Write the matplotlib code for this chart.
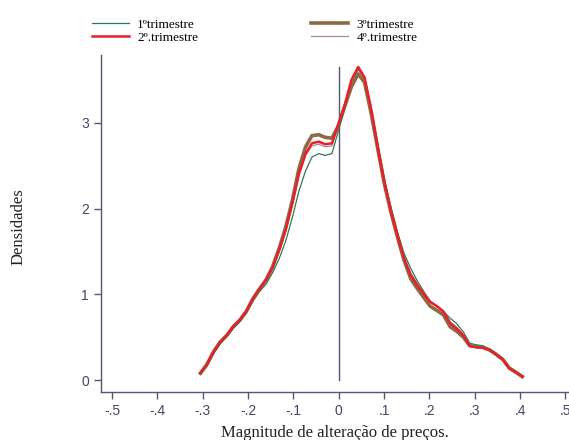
import matplotlib.pyplot as plt

# grade de avaliação da densidade (50 pontos)
x = [-0.305, -0.291, -0.276, -0.262, -0.247, -0.233, -0.218, -0.204, -0.189, -0.175,
     -0.160, -0.146, -0.131, -0.117, -0.102, -0.088, -0.073, -0.059, -0.044, -0.030,
     -0.015, -0.001, 0.014, 0.028, 0.043, 0.057, 0.072, 0.086, 0.101, 0.115,
     0.130, 0.144, 0.159, 0.173, 0.188, 0.202, 0.217, 0.231, 0.246, 0.260,
     0.275, 0.289, 0.304, 0.318, 0.333, 0.347, 0.362, 0.376, 0.391, 0.405]

tri1 = [0.07, 0.16, 0.31, 0.42, 0.51, 0.60, 0.68, 0.78, 0.92, 1.03,
        1.12, 1.25, 1.42, 1.62, 1.90, 2.20, 2.44, 2.60, 2.64, 2.62,
        2.64, 2.90, 3.20, 3.48, 3.62, 3.52, 3.15, 2.75, 2.34, 2.02,
        1.72, 1.48, 1.30, 1.16, 1.03, 0.92, 0.86, 0.80, 0.72, 0.66,
        0.56, 0.43, 0.41, 0.40, 0.36, 0.31, 0.25, 0.15, 0.09, 0.04]

tri2 = [0.08, 0.18, 0.33, 0.44, 0.52, 0.62, 0.70, 0.80, 0.95, 1.06,
        1.17, 1.31, 1.52, 1.75, 2.07, 2.40, 2.64, 2.76, 2.78, 2.75,
        2.76, 2.98, 3.22, 3.50, 3.65, 3.53, 3.15, 2.72, 2.30, 1.98,
        1.68, 1.42, 1.22, 1.11, 1.00, 0.91, 0.86, 0.80, 0.66, 0.60,
        0.52, 0.40, 0.38, 0.38, 0.35, 0.30, 0.24, 0.14, 0.09, 0.04]

tri3 = [0.08, 0.18, 0.33, 0.44, 0.52, 0.62, 0.70, 0.80, 0.95, 1.06,
        1.17, 1.32, 1.54, 1.78, 2.10, 2.46, 2.72, 2.85, 2.86, 2.83,
        2.82, 2.96, 3.20, 3.42, 3.57, 3.47, 3.10, 2.70, 2.28, 1.96,
        1.66, 1.40, 1.18, 1.07, 0.96, 0.86, 0.81, 0.76, 0.62, 0.57,
        0.50, 0.40, 0.39, 0.38, 0.35, 0.30, 0.24, 0.14, 0.09, 0.04]

tri4 = [0.08, 0.18, 0.33, 0.44, 0.52, 0.62, 0.70, 0.80, 0.94, 1.05,
        1.16, 1.30, 1.50, 1.73, 2.05, 2.38, 2.62, 2.73, 2.75, 2.72,
        2.73, 2.97, 3.22, 3.49, 3.63, 3.52, 3.14, 2.73, 2.31, 1.99,
        1.69, 1.44, 1.25, 1.13, 1.01, 0.91, 0.86, 0.80, 0.68, 0.62,
        0.53, 0.41, 0.39, 0.39, 0.35, 0.30, 0.24, 0.14, 0.09, 0.04]

labels = ['1ºtrimestre', '2º.trimestre', '3ºtrimestre', '4º.trimestre']
xticks = [-0.5, -0.4, -0.3, -0.2, -0.1, 0, 0.1, 0.2, 0.3, 0.4, 0.5]
xticklabels = ['-.5', '-.4', '-.3', '-.2', '-.1', '0', '.1', '.2', '.3', '.4', '.5']
yticks = [0, 1, 2, 3]

axcol = '#55557a'
serif = 'Liberation Serif'

fig = plt.figure(figsize=(5.69, 4.4), dpi=100)
ax = fig.add_axes([0.177, 0.109, 0.823, 0.766])

l1, = ax.plot(x, tri1, color='#2f7a50', lw=0.9, zorder=3)
l2, = ax.plot(x, tri2, color='#e8202a', lw=1.8, zorder=5)
l3, = ax.plot(x, tri3, color='#8c6a45', lw=2.6, zorder=2)
l4, = ax.plot(x, tri4, color='#a88a9a', lw=0.9, zorder=4)

# linha vertical no zero
ax.plot([0, 0], [0, max(tri2)], color=axcol, lw=1.0, zorder=1)

ax.set_xlim(-0.525, 0.508)
ax.set_ylim(-0.14, 3.79)
ax.set_xticks(xticks)
ax.set_xticklabels(xticklabels)
ax.set_yticks(yticks)

for s in ['top', 'right']:
    ax.spines[s].set_visible(False)
for s in ['left', 'bottom']:
    ax.spines[s].set_color(axcol)
    ax.spines[s].set_linewidth(1.0)
ax.tick_params(colors=axcol, length=5, width=1, labelsize=10)
for t in ax.get_xticklabels() + ax.get_yticklabels():
    t.set_family('Liberation Sans')
    t.set_color('#44446a')

ax.set_xlabel('Magnitude de alteração de preços.', family=serif, fontsize=12,
              color='#222222', labelpad=5)
fig.text(0.032, 0.486, 'Densidades', rotation=90, family=serif, fontsize=12,
         color='#222222', ha='center', va='center')

fig.legend([l1, l2, l3, l4], labels, ncol=2, loc='upper left',
           bbox_to_anchor=(0.141, 0.985), frameon=False,
           prop={'family': serif, 'size': 9.5}, handlelength=2.8,
           handletextpad=0.6, labelspacing=0.05, columnspacing=8.6)

fig.savefig('out.png', dpi=100)
